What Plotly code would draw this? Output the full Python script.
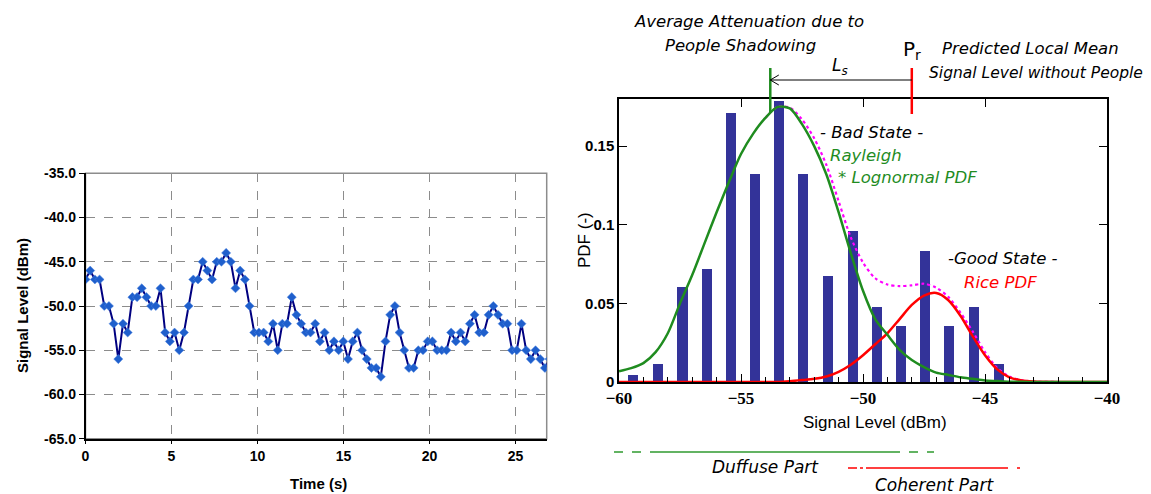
import plotly.graph_objects as go

W, H = 1151, 494

# ---------------- Left chart data: signal level vs time ----------------
time_step_s = 0.2725
signal_dbm = [-47, -46, -47, -47, -50, -50, -52, -56, -52, -53,
              -49, -49, -48, -49, -50, -50, -48, -53, -54, -53,
              -55, -53, -50, -47, -47, -45, -46, -47, -45, -45,
              -44, -45, -48, -46, -47, -50, -53, -53, -53, -54,
              -52, -55, -52, -52, -49, -51, -52, -53, -53, -52,
              -54, -53, -55, -54, -55, -54, -56, -54, -53, -55,
              -56, -57, -57, -58, -54, -51, -50, -53, -55, -57,
              -57, -55, -55, -54, -54, -55, -55, -55, -53, -54,
              -53, -54, -52, -51, -53, -53, -51, -50, -51, -52,
              -52, -55, -55, -52, -55, -56, -55, -56, -57, -56]
time_s = [round(i * time_step_s, 4) for i in range(len(signal_dbm))]

left_xticks = [0, 5, 10, 15, 20, 25]
left_yticks = [-65, -60, -55, -50, -45, -40, -35]
left_yticktext = ["-65.0", "-60.0", "-55.0", "-50.0", "-45.0", "-40.0", "-35.0"]

# ---------------- Right chart data: histogram + PDFs ----------------
bar_centers = [-59.42, -58.4, -57.4, -56.4, -55.4, -54.42, -53.44, -52.45,
               -51.44, -50.42, -49.44, -48.45, -47.46, -46.47, -45.45, -44.42]
bar_pdf = [0.0043, 0.0115, 0.0602, 0.0719, 0.1713, 0.1323, 0.1787, 0.1323,
           0.0674, 0.0962, 0.0477, 0.0357, 0.0834, 0.0357, 0.0477, 0.0115]

curve_x = [-60, -59.5, -59, -58.5, -58, -57.5, -57, -56.5, -56, -55.5,
           -55, -54.5, -54, -53.5, -53, -52.5, -52, -51.5, -51, -50.5,
           -50, -49.5, -49, -48.5, -48, -47.5, -47, -46.5, -46, -45.5,
           -45, -44.5, -44, -43.5, -43, -42, -41, -40]
rayleigh_lognormal_pdf = [0.0068, 0.0088, 0.012, 0.019, 0.031, 0.050, 0.068, 0.088, 0.108, 0.127,
                          0.145, 0.158, 0.168, 0.175, 0.174, 0.164, 0.150, 0.132, 0.108, 0.082,
                          0.058, 0.040, 0.030, 0.0205, 0.014, 0.0095, 0.006, 0.0045, 0.003, 0.002,
                          0.001, 0.0006, 0.0002, 0.0001, 0, 0, 0, 0]
rice_pdf = [0, 0, 0, 0, 0, 0, 0, 0, 0, 0,
            0, 0, 0, 0, 0.0005, 0.0012, 0.002, 0.0035, 0.0065, 0.011,
            0.017, 0.024, 0.031, 0.040, 0.049, 0.055, 0.0566, 0.052, 0.042, 0.029,
            0.017, 0.008, 0.003, 0.001, 0.0003, 0, 0, 0]
total_x = [-54, -53.5, -53, -52.5, -52, -51.5, -51, -50.5, -50, -49.5,
           -49, -48.5, -48, -47.5, -47, -46.5, -46, -45.5, -45, -44.5,
           -44, -43.5, -43, -42, -41, -40]
total_pdf = [0.168, 0.175, 0.1745, 0.167, 0.155, 0.138, 0.115, 0.092, 0.076, 0.066,
             0.062, 0.061, 0.0615, 0.0625, 0.060, 0.054, 0.044, 0.032, 0.019, 0.009,
             0.0035, 0.0012, 0.0003, 0, 0, 0]

bad_state_mean_dbm = -53.8
predicted_mean_dbm = -48.0

right_major_x = [-60, -55, -50, -45, -40]
right_yticks = [0, 0.05, 0.1, 0.15]
right_yticktext = ["0", "0.05", "0.1", "0.15"]


def px(x):
    return x / W


def py(y):
    return 1 - y / H


GREEN = "#1f8c1f"
RED = "#ff0000"
MAGENTA = "#ff00ff"
BAR = "#333399"
SANS = "Liberation Sans, Arial, sans-serif"
SERIF = "Liberation Serif, Times New Roman, serif"
ITAL = "DejaVu Sans, Verdana, sans-serif"

fig = go.Figure()

# left chart
fig.add_trace(go.Scatter(
    x=time_s, y=signal_dbm, mode="lines+markers",
    line=dict(color="#000080", width=2),
    marker=dict(symbol="diamond", size=7, color="#1f5fcc",
                line=dict(color="#4f86e0", width=0.5)),
    xaxis="x", yaxis="y", showlegend=False, hoverinfo="skip"))

# right chart
fig.add_trace(go.Bar(x=bar_centers, y=bar_pdf, width=0.42, marker=dict(color=BAR, line=dict(width=0)),
                     xaxis="x2", yaxis="y2", showlegend=False, hoverinfo="skip"))
fig.add_trace(go.Scatter(x=total_x, y=total_pdf, mode="lines",
                         line=dict(color=MAGENTA, width=2.2, dash="dot", shape="spline", smoothing=0.8),
                         xaxis="x2", yaxis="y2", showlegend=False, hoverinfo="skip"))
fig.add_trace(go.Scatter(x=curve_x, y=rice_pdf, mode="lines",
                         line=dict(color=RED, width=2.5, shape="spline", smoothing=0.8),
                         xaxis="x2", yaxis="y2", showlegend=False, hoverinfo="skip"))
fig.add_trace(go.Scatter(x=curve_x, y=rayleigh_lognormal_pdf, mode="lines",
                         line=dict(color=GREEN, width=2.5, shape="spline", smoothing=0.8),
                         xaxis="x2", yaxis="y2", showlegend=False, hoverinfo="skip"))
# invisible anchors for the overlay frame axes
fig.add_trace(go.Scatter(x=[-50], y=[0], mode="markers", marker=dict(opacity=0),
                         xaxis="x3", yaxis="y2", showlegend=False, hoverinfo="skip"))
fig.add_trace(go.Scatter(x=[-50], y=[0], mode="markers", marker=dict(opacity=0),
                         xaxis="x2", yaxis="y3", showlegend=False, hoverinfo="skip"))

L_dom_x = [px(85.5), px(546.7)]
L_dom_y = [py(438.7), py(173.3)]
R_dom_x = [px(619), px(1107)]
R_dom_y = [py(382), py(99)]

fig.update_layout(
    width=W, height=H, margin=dict(l=0, r=0, t=0, b=0, pad=0, autoexpand=False),
    paper_bgcolor="white", plot_bgcolor="white",
    bargap=0,
    xaxis=dict(domain=L_dom_x, anchor="y", range=[0, 26.81], automargin=False,
               tickvals=left_xticks, ticks="outside", ticklen=4, tickcolor="black",
               showline=True, linecolor="black", linewidth=1.5,
               showgrid=True, gridcolor="#8c8c8c", griddash="dash", gridwidth=1,
               zeroline=False,
               tickfont=dict(family=SANS, size=14, color="black", weight="bold")),
    yaxis=dict(domain=L_dom_y, anchor="x", range=[-65, -35], automargin=False,
               tickvals=left_yticks, ticktext=left_yticktext,
               ticks="outside", ticklen=5, tickcolor="black",
               showline=True, linecolor="black", linewidth=1.5,
               showgrid=True, gridcolor="#8c8c8c", griddash="dash", gridwidth=1,
               zeroline=False,
               tickfont=dict(family=SANS, size=14, color="black", weight="bold")),
    xaxis2=dict(domain=R_dom_x, anchor="y2", range=[-60, -40], automargin=False,
                tickvals=right_major_x, ticks="inside", ticklen=8, tickcolor="black",
                minor=dict(dtick=1, ticks="inside", ticklen=5, tickcolor="black"),
                showline=True, linecolor="black", linewidth=1.5,
                showgrid=False, zeroline=False,
                tickfont=dict(family=SERIF, size=17, color="black", weight="bold")),
    yaxis2=dict(domain=R_dom_y, anchor="x2", range=[0, 0.18], automargin=False,
                tickvals=right_yticks, ticktext=right_yticktext,
                ticks="inside", ticklen=8, tickcolor="black",
                showline=True, linecolor="black", linewidth=1.5,
                showgrid=False, zeroline=False,
                tickfont=dict(family=SANS, size=15, color="black", weight="bold")),
    xaxis3=dict(overlaying="x2", anchor="y2", side="top", range=[-60, -40], automargin=False,
                tickvals=right_major_x[1:-1], ticks="inside", ticklen=8, tickcolor="black",
                showticklabels=False, showline=True, linecolor="black", linewidth=1.5,
                showgrid=False, zeroline=False),
    yaxis3=dict(overlaying="y2", anchor="x2", side="right", range=[0, 0.18], automargin=False,
                tickvals=right_yticks[1:], ticks="inside", ticklen=8, tickcolor="black",
                showticklabels=False, showline=True, linecolor="black", linewidth=1.5,
                showgrid=False, zeroline=False),
)

shapes = []
# gray frame of the left chart (top/right edges)
shapes.append(dict(type="rect", xref="x domain", yref="y domain", x0=0, x1=1, y0=0, y1=1,
                   line=dict(color="#8c8c8c", width=1.5), layer="below"))
# vertical markers above the right chart
shapes.append(dict(type="line", xref="x2", yref="paper", x0=bad_state_mean_dbm, x1=bad_state_mean_dbm,
                   y0=py(68), y1=py(113), line=dict(color=GREEN, width=2.5)))
shapes.append(dict(type="line", xref="x2", yref="paper", x0=predicted_mean_dbm, x1=predicted_mean_dbm,
                   y0=py(68), y1=py(114), line=dict(color=RED, width=2.5)))
# L_s arrow: shaft + open chevron head
arrow_y = py(80)
head_dx = 0.35
head_dy = 5 / H
shapes.append(dict(type="line", xref="x2", yref="paper", x0=predicted_mean_dbm, x1=bad_state_mean_dbm,
                   y0=arrow_y, y1=arrow_y, line=dict(color="black", width=1)))
shapes.append(dict(type="path", xref="x2", yref="paper",
                   path=(f"M {bad_state_mean_dbm + head_dx},{arrow_y + head_dy} "
                         f"L {bad_state_mean_dbm},{arrow_y} "
                         f"L {bad_state_mean_dbm + head_dx},{arrow_y - head_dy}"),
                   line=dict(color="black", width=1)))


def seg(x0, x1, y, color, dash):
    return dict(type="line", xref="paper", yref="paper", x0=px(x0), x1=px(x1), y0=py(y), y1=py(y),
                line=dict(color=color, width=1.6, dash=dash))


shapes += [seg(614, 657, 452, "#2f9a2f", "dash"), seg(657, 891, 452, "#2f9a2f", "solid"),
           seg(891, 934, 452, "#2f9a2f", "dash"),
           seg(848, 869, 468, RED, "dashdot"), seg(869, 999, 468, RED, "solid"),
           seg(999, 1020, 468, RED, "dash")]
fig.update_layout(shapes=shapes)

ann = []


def text(x, y, s, size=16.5, color="black", family=ITAL, xanchor="center", angle=0):
    ann.append(dict(x=px(x), y=py(y), xref="paper", yref="paper", text=s, showarrow=False,
                    xanchor=xanchor, yanchor="middle", textangle=angle,
                    font=dict(family=family, size=size, color=color)))


# left chart titles
text(22, 306, "<b>Signal Level (dBm)</b>", size=15, family=SANS, angle=-90)
text(318, 483, "<b>Time (s)</b>", size=15, family=SANS)

# right chart titles
text(875, 422, "Signal Level (dBm)", size=17, family=SANS)
text(585, 240, "PDF (-)", size=17, family=SANS, angle=-90)

# top annotations
text(749, 21, "<i>Average Attenuation due to</i>")
text(740, 45, "<i>People Shadowing</i>")
text(912, 50, "P<sub>r</sub>", size=20)
text(840, 66, "<i>L<sub>s</sub></i>", size=17)
text(1030, 49, "<i>Predicted Local Mean</i>")
text(1036, 73, "<i>Signal Level without People</i>", size=15.5)

# in-plot annotations
text(818, 132, "<i>- Bad State -</i>", xanchor="left")
text(828, 155, "<i>Rayleigh</i>", color=GREEN, xanchor="left")
text(836, 177, "<i>* Lognormal PDF</i>", color=GREEN, xanchor="left")
text(946, 258, "<i>-Good State -</i>", xanchor="left")
text(962, 282, "<i>Rice PDF</i>", color=RED, xanchor="left")

# bottom annotations
text(765, 467, "<i>Duffuse Part</i>", size=17)
text(934, 485, "<i>Coherent Part</i>", size=17)

fig.update_layout(annotations=ann)

fig.write_html("out.html", config={"displayModeBar": False},
               post_script="document.body.style.margin='0';document.body.style.overflow='hidden';")
